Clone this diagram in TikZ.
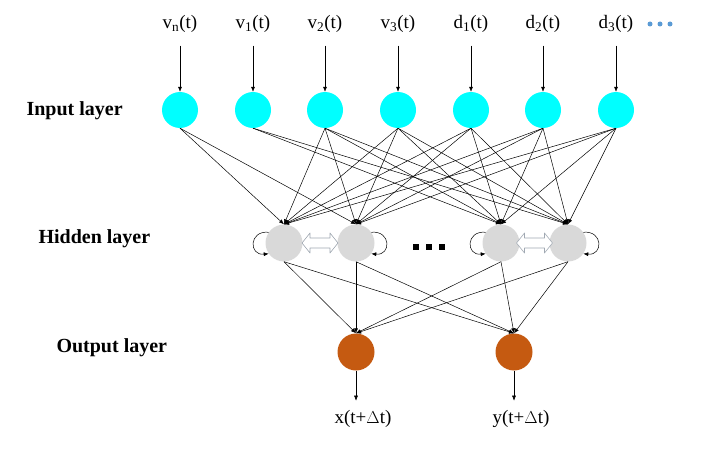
\documentclass[tikz,border=0pt]{standalone}
\usepackage{fontspec}
\setmainfont{Liberation Serif}
\usetikzlibrary{arrows.meta,calc}

\begin{document}
\begin{tikzpicture}[x=1pt,y=-1pt,
  inp/.style={circle,fill=inpcyan,minimum size=36pt,inner sep=0pt},
  hid/.style={circle,fill=hidgrey,minimum size=37pt,inner sep=0pt},
  outp/.style={circle,fill=outbrown,minimum size=37pt,inner sep=0pt},
  conn/.style={-{Latex[length=5pt,width=4pt]},line width=0.5pt},
  sig/.style={font=\fontsize{19}{20}\selectfont,anchor=base},
  layer/.style={font=\fontsize{20}{21}\selectfont\bfseries,anchor=base west},
  twoway/.style={draw=arrgrey,fill=white,line width=0.6pt,line join=round},
  dotsq/.style={fill=black,minimum size=6pt,inner sep=0pt}]
\definecolor{inpcyan}{RGB}{0,255,255}
\definecolor{hidgrey}{RGB}{217,217,217}
\definecolor{outbrown}{RGB}{197,90,17}
\definecolor{arrgrey}{RGB}{160,168,178}
\definecolor{dotblue}{RGB}{91,155,213}
\useasboundingbox (0,0) rectangle (710,452);
% layer names
\node[layer] (ln1) at (23,116) {Input layer};
\node[layer] (ln2) at (35,243) {Hidden layer};
\node[layer] (ln3) at (53,352) {Output layer};
% input layer
\node[inp] (i1) at (180,110) {};
\node[inp] (i2) at (253,110) {};
\node[inp] (i3) at (325,110) {};
\node[inp] (i4) at (398,110) {};
\node[inp] (i5) at (471,110) {};
\node[inp] (i6) at (543,110) {};
\node[inp] (i7) at (616,110) {};
\node[sig] (s1) at (180,29) {v\textsubscript{n}(t)};
\node[sig] (s2) at (253,29) {v\textsubscript{1}(t)};
\node[sig] (s3) at (325,29) {v\textsubscript{2}(t)};
\node[sig] (s4) at (398,29) {v\textsubscript{3}(t)};
\node[sig] (s5) at (471,29) {d\textsubscript{1}(t)};
\node[sig] (s6) at (543,29) {d\textsubscript{2}(t)};
\node[sig] (s7) at (616,29) {d\textsubscript{3}(t)};
\foreach \k/\xx in {1/650,2/660,3/670}
  \node[circle,fill=dotblue,minimum size=5pt,inner sep=0pt] (b\k) at (\xx,24) {};
% hidden layer
\node[hid] (h1) at (284,243) {};
\node[hid] (h2) at (356,243) {};
\node[hid] (h3) at (501,243) {};
\node[hid] (h4) at (568,243) {};
\coordinate (w1) at ($(h1)!0.5!(h2)$);
\coordinate (w2) at ($(h3)!0.5!(h4)$);
\foreach \w in {w1,w2}
  \draw[twoway] ($(\w)+(-18,0)$) -- ++(8,-10) -- ++(0,5) -- ++(20,0) -- ++(0,-5)
    -- ++(8,10) -- ++(-8,10) -- ++(0,-5) -- ++(-20,0) -- ++(0,5) -- cycle;
\node[dotsq] (q1) at (416,247) {};
\node[dotsq] (q2) at (429,247) {};
\node[dotsq] (q3) at (442,247) {};
% output layer
\node[outp] (o1) at (356,352) {};
\node[outp] (o2) at (514,352) {};
\node[sig] (r1) at (363,423) {x(t+$\Delta$t)};
\node[sig] (r2) at (521,423) {y(t+$\Delta$t)};
% arrows in and out
\foreach \k in {1,...,7}
  \draw[conn,shorten <=9pt] (s\k.south) -- (i\k.north);
\draw[conn] (o1.south) -- ++(0,30) coordinate (e1);
\draw[conn] (o2.south) -- ++(0,30) coordinate (e2);
% input to hidden
\draw[conn] (i1.south) -- (h1.north);
\draw[conn] (i1.south) -- (h2.north);
\draw[conn] (i2.south) -- (h3.north);
\draw[conn] (i2.south) -- (h4.north);
\foreach \a in {3,...,7}
  \foreach \b in {1,...,4}
    \draw[conn] (i\a.south) -- (h\b.north);
% hidden to output
\foreach \a in {1,...,4}
  \foreach \b in {1,2}
    \draw[conn] (h\a.south) -- (o\b.north);
% self loops
\draw[conn] (h1.145) .. controls +(-20,-2) and +(-20,2) .. (h1.215);
\draw[conn] (h2.35) .. controls +(20,-2) and +(20,2) .. (h2.-35);
\draw[conn] (h3.145) .. controls +(-20,-2) and +(-20,2) .. (h3.215);
\draw[conn] (h4.35) .. controls +(20,-2) and +(20,2) .. (h4.-35);
\end{tikzpicture}
\end{document}
